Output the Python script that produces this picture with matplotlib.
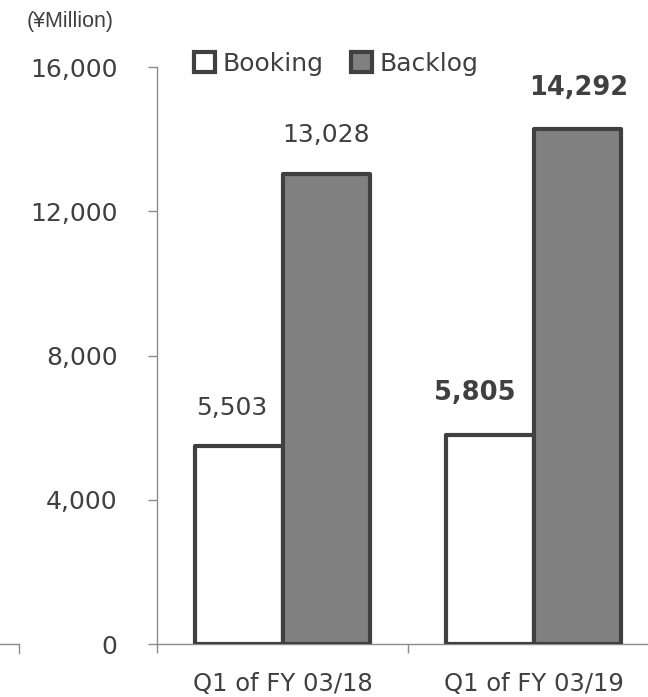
import matplotlib.pyplot as plt
from matplotlib.patches import Patch
from matplotlib.lines import Line2D

# Data
categories = ['Q1 of FY 03/18', 'Q1 of FY 03/19']
booking = [5503, 5805]
backlog = [13028, 14292]
label_bold = [False, True]
yticks = [0, 4000, 8000, 12000, 16000]

text_col = '#404040'
axis_col = '#8c8c8c'
edge_col = '#404040'
fill_col = '#808080'

plt.rcParams['font.family'] = ['DejaVu Sans']

fig = plt.figure(figsize=(6.48, 6.97), dpi=100)
W, H = 648, 697
ax = fig.add_axes([157 / W, (H - 644) / H, 502 / W, (644 - 67) / H])

w = 0.347
x = list(range(len(categories)))
b1 = ax.bar([i - w / 2 for i in x], booking, w, color='white',
            edgecolor=edge_col, linewidth=3, zorder=3)
b2 = ax.bar([i + w / 2 for i in x], backlog, w, color=fill_col,
            edgecolor=edge_col, linewidth=3, zorder=3)
for p in list(b1) + list(b2):
    p.set_joinstyle('round')

# Value labels (offsets in points, tuned by eye)
book_off = [(-5, 27), (-11, 30)]
back_off = [(0, 28), (1.5, 29)]
for i in x:
    fw = 'bold' if label_bold[i] else 'normal'
    fs = 18.5 if label_bold[i] else 18
    ax.annotate(f'{booking[i]:,}', (i - w / 2, booking[i]), xytext=book_off[i],
                textcoords='offset points', ha='center', va='center',
                fontsize=fs, color=text_col, fontweight=fw)
    ax.annotate(f'{backlog[i]:,}', (i + w / 2, backlog[i]), xytext=back_off[i],
                textcoords='offset points', ha='center', va='center',
                fontsize=fs, color=text_col, fontweight=fw)

ax.set_xlim(-0.5, 1.5)
ax.set_ylim(0, 16000)
ax.set_yticks(yticks)
ax.set_yticklabels([f'{v:,}' for v in yticks])
ax.set_xticks([-0.5, 0.5, 1.5])
ax.set_xticklabels([])
ax.set_xticks(x, minor=True)
ax.set_xticklabels(categories, minor=True)

ax.tick_params(axis='y', length=6.5, width=1, color=axis_col, pad=22,
               labelsize=18, labelcolor=text_col)
ax.tick_params(axis='x', which='major', length=6.5, width=1, color=axis_col)
ax.tick_params(axis='x', which='minor', length=0, pad=20, labelsize=17.5,
               labelcolor=text_col)

for s in ['top', 'right']:
    ax.spines[s].set_visible(False)
for s in ['left', 'bottom']:
    ax.spines[s].set_color(axis_col)
    ax.spines[s].set_linewidth(1)

fig.text(70 / W, 1 - 22 / H, '(¥Million)', ha='center', va='center',
         fontsize=15.5, color=text_col, family='Liberation Sans')

handles = [Patch(facecolor='white', edgecolor=edge_col, linewidth=3,
                 joinstyle='round'),
           Patch(facecolor=fill_col, edgecolor=edge_col, linewidth=3,
                 joinstyle='round')]
fig.legend(handles, ['Booking', 'Backlog'], ncol=2, frameon=False,
           loc='upper left', bbox_to_anchor=(181 / W, 1 - 39 / H),
           borderpad=0, handlelength=0.85, handleheight=0.85,
           handletextpad=0.3, columnspacing=1.1, fontsize=18,
           labelcolor=text_col)

# fragment of neighbouring chart axis at bottom left
fig.add_artist(Line2D([0, 19 / W], [(H - 644) / H] * 2, color=axis_col, lw=1))
fig.add_artist(Line2D([19 / W] * 2, [(H - 644) / H, (H - 653) / H],
                      color=axis_col, lw=1))

fig.savefig('out.png', dpi=100)
